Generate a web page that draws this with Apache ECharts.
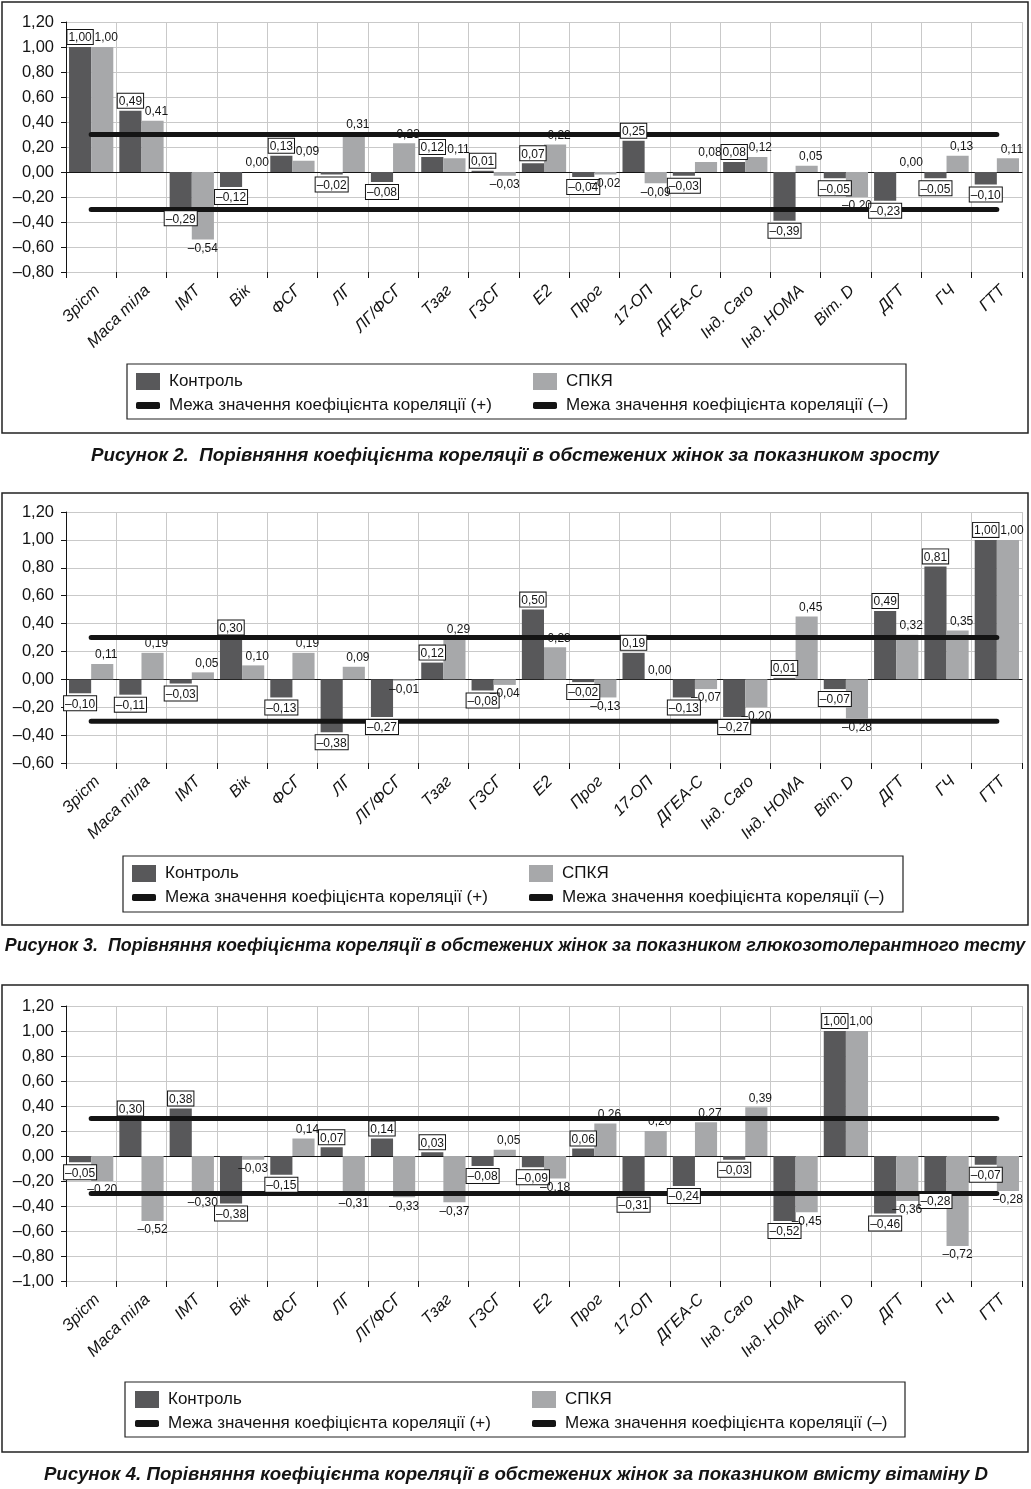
<!DOCTYPE html>
<html><head><meta charset="utf-8">
<script src="https://cdn.jsdelivr.net/npm/echarts@6/dist/echarts.min.js"></script>
<style>html,body{margin:0;padding:0;background:#fff}#c{width:1031px;height:1489px}</style>
</head><body><div id="c"></div>
<script>
const categories = ['Зріст','Маса тіла','ІМТ','Вік','ФСГ','ЛГ','ЛГ/ФСГ','Тзаг','ГЗСГ','Е2','Прог','17-ОП','ДГЕА-С','Інд. Caro','Інд. HOMA','Віт. D','ДГТ','ГЧ','ГТТ'];

// Рисунок 2 — зріст
const fig2Control = [1.00, 0.49, -0.29, -0.12, 0.13, -0.02, -0.08, 0.12, 0.01, 0.07, -0.04, 0.25, -0.03, 0.08, -0.39, -0.05, -0.23, -0.05, -0.10];
const fig2Pcos    = [1.00, 0.41, -0.54, 0.00, 0.09, 0.31, 0.23, 0.11, -0.03, 0.22, -0.02, -0.09, 0.08, 0.12, 0.05, -0.20, 0.00, 0.13, 0.11];
// Рисунок 3 — ГТТ
const fig3Control = [-0.10, -0.11, -0.03, 0.30, -0.13, -0.38, -0.27, 0.12, -0.08, 0.50, -0.02, 0.19, -0.13, -0.27, 0.01, -0.07, 0.49, 0.81, 1.00];
const fig3Pcos    = [0.11, 0.19, 0.05, 0.10, 0.19, 0.09, -0.01, 0.29, -0.04, 0.23, -0.13, 0.00, -0.07, -0.20, 0.45, -0.28, 0.32, 0.35, 1.00];
// Рисунок 4 — вітамін D
const fig4Control = [-0.05, 0.30, 0.38, -0.38, -0.15, 0.07, 0.14, 0.03, -0.08, -0.09, 0.06, -0.31, -0.24, -0.03, -0.52, 1.00, -0.46, -0.28, -0.07];
const fig4Pcos    = [-0.20, -0.52, -0.30, -0.03, 0.14, -0.31, -0.33, -0.37, 0.05, -0.18, 0.26, 0.20, 0.27, 0.39, -0.45, 1.00, -0.36, -0.72, -0.28];

const limitPlus = 0.3;
const limitMinus = -0.3;

const yMin2 = -0.8, yMin3 = -0.6, yMin4 = -1.0, yMax = 1.2, yStep = 0.2;

const captions = [
  'Рисунок 2.  Порівняння коефіцієнта кореляції в обстежених жінок за показником зросту',
  'Рисунок 3.  Порівняння коефіцієнта кореляції в обстежених жінок за показником глюкозотолерантного тесту',
  'Рисунок 4. Порівняння коефіцієнта кореляції в обстежених жінок за показником вмісту вітаміну D'
];
const nameControl = 'Контроль';
const namePcos = 'СПКЯ';
const namePlus = 'Межа значення коефіцієнта кореляції (+)';
const nameMinus = 'Межа значення коефіцієнта кореляції (–)';

const DARK = '#58585a', LIGHT = '#a7a8aa', INK = '#141414';
const FONT = '"Liberation Sans", Arial, sans-serif';
const NARROW = '"Liberation Sans Narrow", "Liberation Sans", Arial, sans-serif';

function fmt(v) {
  const a = Math.abs(v).toFixed(2).replace('.', ',');
  return (v < -0.0001 ? '–' : '') + a;
}

const panels = [
  { control: fig2Control, pcos: fig2Pcos, min: yMin2, top: 22, height: 250, panel: [2, 2, 1026, 431],
    lbox: [127, 364, 779, 55], rows: [381, 405], cols: [136, 533], cap: 456, capSize: 18.8, capX: 515 },
  { control: fig3Control, pcos: fig3Pcos, min: yMin3, top: 512, height: 251, panel: [2, 493, 1026, 432],
    lbox: [123, 856, 780, 56], rows: [873, 897], cols: [132, 529], cap: 946, capSize: 17.9, capX: 515 },
  { control: fig4Control, pcos: fig4Pcos, min: yMin4, top: 1006, height: 275, panel: [2, 985, 1026, 467],
    lbox: [125, 1382, 780, 55], rows: [1399, 1423], cols: [135, 532], cap: 1475, capSize: 18.7, capX: 516 }
];

const option = {
  animation: false,
  textStyle: { fontFamily: FONT },
  grid: [], xAxis: [], yAxis: [], series: [], legend: [], graphic: { elements: [] }
};

panels.forEach((p, i) => {
  option.grid.push({ left: 66, right: 9, top: p.top, height: p.height });
  option.xAxis.push({
    type: 'category', gridIndex: i, data: categories, boundaryGap: true, position: 'bottom',
    axisLine: { show: false, onZero: false },
    axisTick: { show: true, interval: 0, length: 6, lineStyle: { color: INK } },
    splitLine: { show: true, interval: 0, lineStyle: { color: '#c9c9c9', width: 1 } },
    axisLabel: { interval: 0, rotate: 45, margin: 10, fontSize: 16.5, fontStyle: 'italic', color: INK,
      fontFamily: FONT, verticalAlign: 'top' }
  });
  option.xAxis.push({
    type: 'category', gridIndex: i, data: categories, boundaryGap: true, position: 'bottom',
    axisLine: { show: true, onZero: true, lineStyle: { color: INK, width: 1 } },
    axisTick: { show: false }, axisLabel: { show: false }, splitLine: { show: false }
  });
  option.yAxis.push({
    type: 'value', gridIndex: i, min: p.min, max: yMax, interval: yStep,
    axisLine: { show: true, lineStyle: { color: INK, width: 1 } },
    axisTick: { show: true, length: 5, lineStyle: { color: INK } },
    splitLine: { show: true, lineStyle: { color: '#c9c9c9', width: 1 } },
    axisLabel: { fontSize: 16.5, color: INK, margin: 12, formatter: v => fmt(v), fontFamily: FONT }
  });

  const boxed = { show: true, formatter: q => fmt(q.value), fontSize: 12, fontFamily: NARROW, color: INK,
    borderColor: INK, borderWidth: 1, backgroundColor: '#fff', padding: [2, 1, 0, 1], distance: 3 };
  const plain = { show: true, formatter: q => fmt(q.value), fontSize: 12, fontFamily: NARROW, color: INK, distance: 3 };
  const withPos = (vals, lbl, dx) => vals.map(v => ({ value: v, label: Object.assign({}, lbl,
    { position: v >= 0 ? 'top' : 'bottom', offset: [v >= 0 ? dx : 0, 0] }) }));

  const barCommon = { type: 'bar', barGap: '0%', barCategoryGap: '12%', yAxisIndex: i };
  option.series.push(Object.assign({}, barCommon, { name: nameControl, xAxisIndex: 2 * i, data: p.control,
    itemStyle: { color: DARK }, z: 2 }));
  option.series.push(Object.assign({}, barCommon, { name: namePcos, xAxisIndex: 2 * i, data: p.pcos,
    itemStyle: { color: LIGHT }, z: 2 }));
  option.series.push({ type: 'line', name: namePlus, xAxisIndex: 2 * i, yAxisIndex: i,
    data: categories.map(() => limitPlus), symbol: 'none', z: 5,
    lineStyle: { color: INK, width: 5, cap: 'round' }, itemStyle: { color: INK } });
  option.series.push({ type: 'line', name: nameMinus, xAxisIndex: 2 * i, yAxisIndex: i,
    data: categories.map(() => limitMinus), symbol: 'none', z: 5,
    lineStyle: { color: INK, width: 5, cap: 'round' }, itemStyle: { color: INK } });
  // label carriers (transparent bars drawn above the limit lines)
  option.series.push(Object.assign({}, barCommon, { name: 'lblc' + i, xAxisIndex: 2 * i + 1, data: withPos(p.control, boxed, 0),
    itemStyle: { color: 'rgba(0,0,0,0)' }, z: 10, silent: true }));
  option.series.push(Object.assign({}, barCommon, { name: 'lblp' + i, xAxisIndex: 2 * i + 1, data: withPos(p.pcos, plain, 4),
    itemStyle: { color: 'rgba(0,0,0,0)' }, z: 10, silent: true }));

  const lg = (name, x, y, icon, w, h) => ({
    data: [{ name: name, icon: icon }], left: x, top: y - 8, itemWidth: w, itemHeight: h,
    selectedMode: false, padding: 0,
    textStyle: { fontSize: 17, color: INK, fontFamily: FONT, padding: [0, 0, 0, 4] }
  });
  option.legend.push(lg(nameControl, p.cols[0], p.rows[0], 'rect', 24, 17));
  option.legend.push(lg(namePcos, p.cols[1], p.rows[0], 'rect', 24, 17));
  option.legend.push(lg(namePlus, p.cols[0], p.rows[1], 'roundRect', 24, 7));
  option.legend.push(lg(nameMinus, p.cols[1], p.rows[1], 'roundRect', 24, 7));

  option.graphic.elements.push({ type: 'rect', silent: true, z: 0,
    shape: { x: p.panel[0], y: p.panel[1], width: p.panel[2], height: p.panel[3] },
    style: { fill: 'none', stroke: '#222', lineWidth: 1.5 } });
  option.graphic.elements.push({ type: 'rect', silent: true, z: 0,
    shape: { x: p.lbox[0], y: p.lbox[1], width: p.lbox[2], height: p.lbox[3] },
    style: { fill: 'none', stroke: '#222', lineWidth: 1.2 } });
  option.graphic.elements.push({ type: 'text', silent: true, x: p.capX, y: p.cap,
    style: { text: captions[i], textAlign: 'center', textVerticalAlign: 'middle',
      font: 'italic bold ' + p.capSize + 'px "Liberation Sans", Arial, sans-serif', fill: INK } });
});

const chart = echarts.init(document.getElementById('c'), null, { renderer: 'canvas' });
chart.setOption(option);
</script>
</body></html>
